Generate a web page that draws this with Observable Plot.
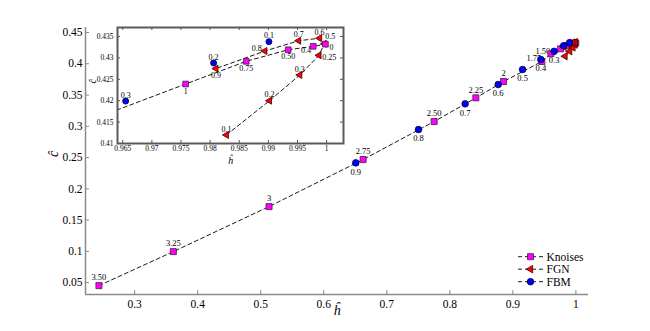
<!DOCTYPE html>
<html><head><meta charset="utf-8">
<script src="https://cdn.jsdelivr.net/npm/d3@7"></script>
<script src="https://cdn.jsdelivr.net/npm/@observablehq/plot@0.6"></script>
<style>
body{margin:0;background:#fff;}
#wrap{position:relative;width:650px;height:331px;font-family:'Liberation Serif','Times New Roman','DejaVu Serif',serif;}
#wrap > svg, #wrap > div{position:absolute;}
#wrap svg, #wrap svg text{font-family:'Liberation Serif','Times New Roman','DejaVu Serif',serif !important;}
</style></head><body><div id="wrap"></div>
<script>
// ---- data ----
const knoisesLabels = ["3.50","3.25","3","2.75","2.50","2.25","2","1.75","1.50","1","0.75","0.50","0.25","0"];
const knoisesH = [0.2433,0.3614,0.5132,0.6624,0.7751,0.8413,0.8852,0.9460,0.9603,0.9758,0.9862,0.9934,0.9977,0.9998];
const knoisesC = [0.0452,0.0996,0.1716,0.2468,0.3076,0.3455,0.3716,0.4036,0.4159,0.4239,0.4292,0.4319,0.4327,0.4332];

const fgnLabels = ["0.1","0.2","0.3","0.4","0.5","0.6","0.7","0.8","0.9"];
const fgnH = [0.9828,0.9902,0.9954,0.9987,0.9996,0.9988,0.9952,0.9894,0.9810];
const fgnC = [0.4120,0.4200,0.4260,0.4306,0.4333,0.4346,0.4340,0.4316,0.4275];

const fbmLabels = ["0.1","0.2","0.3","0.4","0.5","0.6","0.7","0.8","0.9"];
const fbmH = [0.9901,0.9806,0.9655,0.9444,0.9154,0.8767,0.8243,0.7503,0.6508];
const fbmC = [0.4338,0.4288,0.4199,0.4068,0.3908,0.3668,0.3359,0.2948,0.2415];

const mainXTicks = [0.3,0.4,0.5,0.6,0.7,0.8,0.9,1];
const mainYTicks = [0.05,0.1,0.15,0.2,0.25,0.3,0.35,0.4,0.45];
const insetXTicks = [0.965,0.97,0.975,0.98,0.985,0.99,0.995,1];
const insetYTicks = [0.41,0.415,0.42,0.425,0.43,0.435];
const seriesNames = ["Knoises","FGN","FBM"];

// ---- tables ----
const toRows = (labels, hs, cs) => labels.map((label, i) => ({label, h: hs[i], c: cs[i]}));
const knoises = toRows(knoisesLabels, knoisesH, knoisesC);
const fgn = toRows(fgnLabels, fgnH, fgnC);
const fbm = toRows(fbmLabels, fbmH, fbmC);
const fmt = d => String(d);

const FONT = "'Liberation Serif','Times New Roman','DejaVu Serif',serif";
const MAGENTA = "#ff00ff", RED = "#ff0000", BLUE = "#0000ff";
const dash = "4,3";
const lbl = (data, names, dx, dy, size, clip = false) =>
  Plot.text(data, {filter: d => names.includes(d.label), x: "h", y: "c", text: "label", dx, dy, fontSize: size, fill: "black", clip});

const wrap = document.getElementById("wrap");

// ---- main chart ----
const W = 650, H = 331, mL = 85, mR = 62, mT = 27, mB = 37;
const fw = W - mL - mR, fh = H - mT - mB;
const xDom = [0.222, 1.02], yDom = [0.031, 0.458];
const main = Plot.plot({
  width: W, height: H, marginLeft: mL, marginRight: mR, marginTop: mT, marginBottom: mB,
  style: {fontFamily: FONT, fontSize: "11px", background: "transparent", color: "black", overflow: "visible"},
  x: {domain: xDom, label: null},
  y: {domain: yDom, label: null},
  marks: [
    Plot.ruleX([xDom[0]], {stroke: "#8a8a8a", strokeWidth: 1.5}),
    Plot.ruleY([yDom[0]], {stroke: "#8a8a8a", strokeWidth: 1.5}),
    Plot.tickX(mainXTicks, {x: d => d, insetTop: fh - 4, stroke: "#8a8a8a"}),
    Plot.tickY(mainYTicks, {y: d => d, insetRight: fw - 4, stroke: "#8a8a8a"}),
    Plot.axisX(mainXTicks, {tickSize: 0, tickPadding: 5, tickFormat: fmt, label: null, fontSize: 11.5, fill: "black"}),
    Plot.axisY(mainYTicks, {tickSize: 0, tickPadding: 3, tickFormat: fmt, label: null, fontSize: 11.5, fill: "black"}),
    Plot.text(["ĥ"], {frameAnchor: "bottom", dy: 20, fontSize: 14, fontStyle: "italic"}),
    Plot.text(["ĉ"], {frameAnchor: "left", dx: -32, dy: -4, rotate: -90, fontSize: 14, fontStyle: "italic"}),
    Plot.line(knoises, {x: "h", y: "c", stroke: "black", strokeWidth: 0.9, strokeDasharray: dash}),
    Plot.line(fgn, {x: "h", y: "c", stroke: "black", strokeWidth: 0.9, strokeDasharray: dash}),
    lbl(knoises, ["3.50","3.25","3","2.75","2.50","2.25","2"], 0, -8, 8.5),
    lbl(knoises, ["1.75","1.50"], -8, -3, 8.5),
    lbl(fbm, ["0.9","0.8","0.7","0.6","0.5","0.4","0.3"], 0, 9, 8.5),
    Plot.dot(knoises, {x: "h", y: "c", symbol: "square", r: 3.4, fill: MAGENTA, stroke: "#402040", strokeWidth: 0.8}),
    Plot.dot(fgn, {x: "h", y: "c", symbol: "triangle", rotate: -90, r: 2.7, fill: RED, stroke: "#400000", strokeWidth: 0.8}),
    Plot.dot(fbm, {x: "h", y: "c", symbol: "circle", r: 3.3, fill: BLUE, stroke: "#000020", strokeWidth: 0.8})
  ]
});
main.style.left = "0px"; main.style.top = "0px";
wrap.appendChild(main);

// ---- inset ----
const iW = 280, iH = 175, iL = 37, iR = 17, iT = 27, iB = 32;
const ifw = iW - iL - iR, ifh = iH - iT - iB;
const ixDom = [0.9641, 1.0029], iyDom = [0.41, 0.4371];
const inset = Plot.plot({
  width: iW, height: iH, marginLeft: iL, marginRight: iR, marginTop: iT, marginBottom: iB,
  style: {fontFamily: FONT, fontSize: "7.5px", background: "transparent", color: "black", overflow: "visible"},
  x: {domain: ixDom, label: null},
  y: {domain: iyDom, label: null},
  marks: [
    Plot.tickX(insetXTicks, {x: d => d, insetTop: ifh - 3, stroke: "#555"}),
    Plot.tickX(insetXTicks, {x: d => d, insetBottom: ifh - 3, stroke: "#555"}),
    Plot.tickY(insetYTicks, {y: d => d, insetRight: ifw - 3, stroke: "#555"}),
    Plot.tickY(insetYTicks, {y: d => d, insetLeft: ifw - 3, stroke: "#555"}),
    Plot.axisX(insetXTicks, {tickSize: 0, tickPadding: 2, tickFormat: fmt, label: null, fontSize: 7.5, fill: "black"}),
    Plot.axisY(insetYTicks, {tickSize: 0, tickPadding: 4, tickFormat: fmt, label: null, fontSize: 7.5, fill: "black"}),
    Plot.text(["ĥ"], {frameAnchor: "bottom", dy: 20, fontSize: 10, fontStyle: "italic"}),
    Plot.text(["ĉ"], {frameAnchor: "left", dx: -25, dy: -2, rotate: -90, fontSize: 10, fontStyle: "italic"}),
    Plot.line(knoises, {x: "h", y: "c", stroke: "black", strokeWidth: 0.9, strokeDasharray: dash, clip: true}),
    Plot.line(fgn, {x: "h", y: "c", stroke: "black", strokeWidth: 0.9, strokeDasharray: dash, clip: true}),
    lbl(knoises, ["1","0.75","0.50"], 0, 7, 8, true),
    lbl(knoises, ["0"], 6, 3, 8, true),
    lbl(knoises, ["0.25"], 16, 11, 8, true),
    lbl(fgn, ["0.1","0.2","0.3","0.6","0.7"], 0, -6, 8, true),
    lbl(fgn, ["0.8"], -8, -3, 8, true),
    lbl(fgn, ["0.9"], 0, 7, 8, true),
    lbl(fgn, ["0.5"], 6, -7, 8, true),
    lbl(fgn, ["0.4"], -13, -5, 8, true),
    lbl(fbm, ["0.1","0.2","0.3"], 0, -6, 8, true),
    Plot.dot(fbm, {x: "h", y: "c", symbol: "circle", r: 3.0, fill: BLUE, stroke: "#000020", strokeWidth: 0.8, clip: true}),
    Plot.dot(fgn, {x: "h", y: "c", symbol: "triangle", rotate: -90, r: 2.6, fill: RED, stroke: "#400000", strokeWidth: 0.8, clip: true}),
    Plot.dot(knoises, {x: "h", y: "c", symbol: "square", r: 3.2, fill: MAGENTA, stroke: "#402040", strokeWidth: 0.8, clip: true}),
    Plot.frame({stroke: "#5a5a5a", strokeWidth: 2})
  ]
});
inset.style.left = "80px"; inset.style.top = "0px";
wrap.appendChild(inset);

// ---- legend ----
const legendStyles = [
  {fill: MAGENTA, stroke: "#402040", sym: d3.symbolSquare, size: 36, rot: 0},
  {fill: RED, stroke: "#400000", sym: d3.symbolTriangle, size: 24, rot: -90},
  {fill: BLUE, stroke: "#000020", sym: d3.symbolCircle, size: 34, rot: 0}
];
const leg = d3.create("svg").attr("width", 90).attr("height", 42)
  .style("left", "510px").style("top", "248px").style("position", "absolute");
seriesNames.forEach((name, i) => {
  const yy = 8.7 + i * 12.5, s = legendStyles[i];
  leg.append("line").attr("x1", 8).attr("x2", 33).attr("y1", yy).attr("y2", yy)
    .attr("stroke", "black").attr("stroke-width", 0.9).attr("stroke-dasharray", dash);
  leg.append("path").attr("d", d3.symbol(s.sym, s.size)())
    .attr("transform", `translate(20.5,${yy}) rotate(${s.rot})`)
    .attr("fill", s.fill).attr("stroke", s.stroke).attr("stroke-width", 0.8);
  leg.append("text").attr("x", 36.5).attr("y", yy).attr("dy", "0.35em")
    .attr("font-family", FONT).attr("font-size", 11.5).text(name);
});
wrap.appendChild(leg.node());
</script>
</body></html>
